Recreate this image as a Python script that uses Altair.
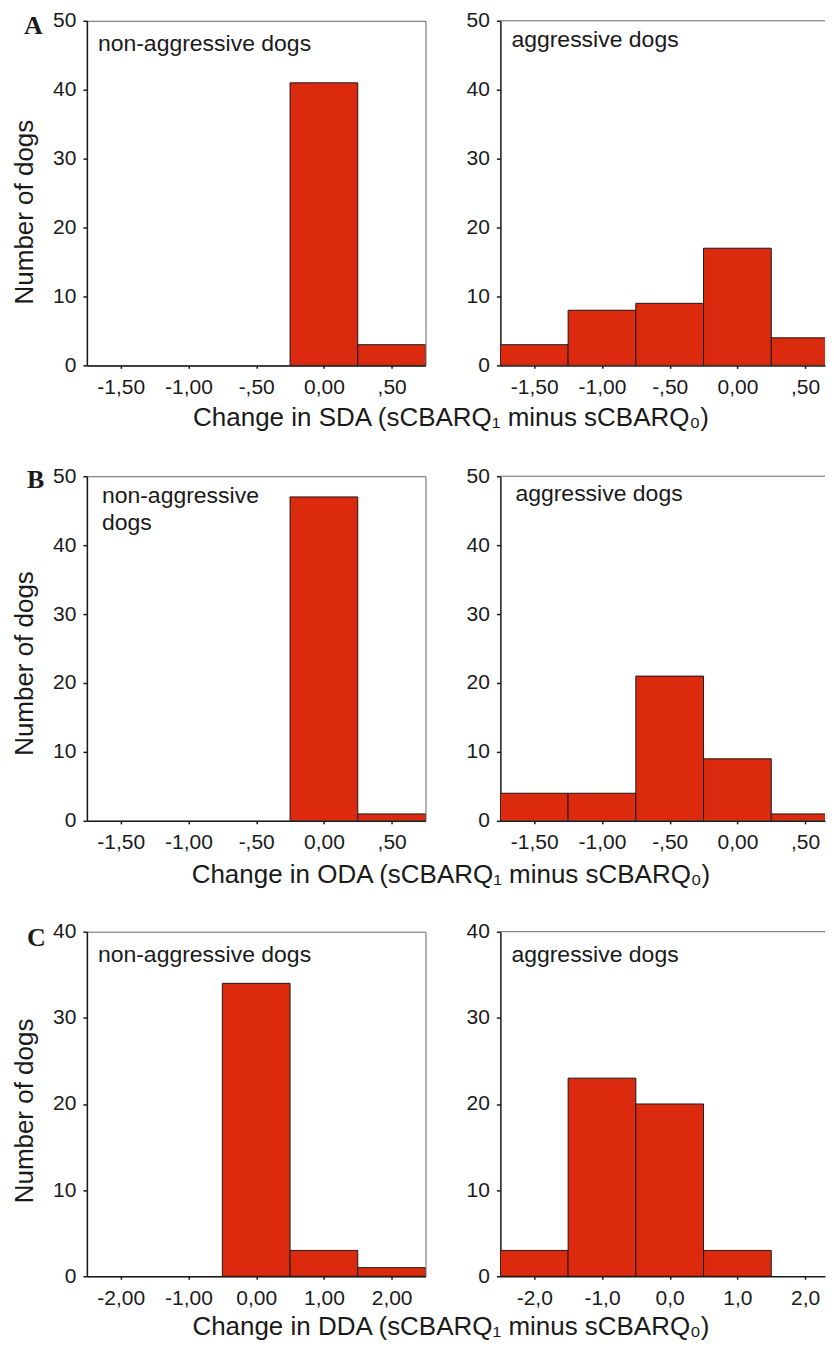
import altair as alt
import pandas as pd

# ---------------- data ----------------
sda_centers = [-1.5, -1.0, -0.5, 0.0, 0.5]
sda_nonagg = [0, 0, 0, 41, 3]
sda_agg = [3, 8, 9, 17, 4]

oda_centers = [-1.5, -1.0, -0.5, 0.0, 0.5]
oda_nonagg = [0, 0, 0, 47, 1]
oda_agg = [4, 4, 21, 9, 1]

dda_centers = [-2.0, -1.0, 0.0, 1.0, 2.0]
dda_nonagg = [0, 0, 34, 3, 1]
dda_agg = [3, 23, 20, 3, 0]

sda_ticks = ["-1,50", "-1,00", "-,50", "0,00", ",50"]
dda_ticks_left = ["-2,00", "-1,00", "0,00", "1,00", "2,00"]
dda_ticks_right = ["-2,0", "-1,0", "0,0", "1,0", "2,0"]

panel_letters = ["A", "B", "C"]
x_titles = [
    "Change in SDA (sCBARQ\u2081 minus sCBARQ\u2080)",
    "Change in ODA (sCBARQ\u2081 minus sCBARQ\u2080)",
    "Change in DDA (sCBARQ\u2081 minus sCBARQ\u2080)",
]
y_title = "Number of dogs"
note_nonagg = "non-aggressive dogs"
note_nonagg_wrapped = "non-aggressive\ndogs"
note_agg = "aggressive dogs"

# ---------------- style ----------------
RED = "#DC2A0E"
INK = "#1a1a1a"
FRAME = "#666666"
FONT = "Liberation Sans"
SERIF = "Liberation Serif"
W_LEFT, W_RIGHT, H = 339, 325, 345


def panel(centers, counts, binw, dom, tick_labels, ymax, width, note, note_x, note_y,
          left, xtitle=None, xtitle_y=60, letter=None, letter_x=-63, letter_y=13, ytitle_y=172):
    df = pd.DataFrame({"center": centers, "n": counts})
    label_expr = ("[" + ",".join(f"'{t}'" for t in tick_labels) + "][indexof(["
                  + ",".join(repr(float(c)) for c in centers) + "], datum.value)]")
    x_axis_kw = dict(values=centers, labelExpr=label_expr, tickSize=3, tickWidth=1.5,
                     labelPadding=8, labelFontSize=21, grid=False)
    if xtitle:
        x_axis_kw.update(title=xtitle, titleX=364, titleY=xtitle_y, titleBaseline="alphabetic",
                         titleFontSize=26, titleAlign="center")
    else:
        x_axis_kw.update(title=None)
    y_axis_kw = dict(values=list(range(0, ymax + 1, 10)), tickSize=4, tickWidth=1.5,
                     labelPadding=7, labelFontSize=21, grid=False)
    if left:
        y_axis_kw.update(title=y_title, titleX=-54, titleY=ytitle_y, titleBaseline="alphabetic",
                         titleFontSize=26, titleAlign="center")
    else:
        y_axis_kw.update(title=None)

    bars = (
        alt.Chart(df)
        .transform_filter("datum.n > 0")
        .transform_calculate(x0=f"datum.center - {binw / 2}", x1=f"datum.center + {binw / 2}")
        .mark_rect(fill=RED, stroke=INK, strokeWidth=1, clip=True)
        .encode(
            x=alt.X("x0:Q", scale=alt.Scale(domain=dom, nice=False, zero=False),
                    axis=alt.Axis(**x_axis_kw)),
            x2="x1:Q",
            y=alt.Y("n:Q", scale=alt.Scale(domain=[0, ymax], nice=False),
                    axis=alt.Axis(**y_axis_kw)),
            y2=alt.datum(0),
        )
    )
    txt = (
        alt.Chart(pd.DataFrame({"note": [note]}))
        .mark_text(align="left", baseline="alphabetic", fontSize=23, font=FONT,
                   lineBreak="\n", lineHeight=27, color=INK)
        .encode(text="note:N", x=alt.value(note_x), y=alt.value(note_y))
    )
    layers = [bars, txt]
    if letter:
        lt = (
            alt.Chart(pd.DataFrame({"letter": [letter]}))
            .mark_text(align="left", baseline="alphabetic", fontSize=26, font=SERIF,
                       fontWeight="bold", color=INK)
            .encode(text="letter:N", x=alt.value(letter_x), y=alt.value(letter_y))
        )
        layers.append(lt)
        view = alt.ViewBackground(stroke=FRAME, strokeWidth=1)
    else:
        # right-hand panels run off the page edge: only the top frame line is visible
        top_line = (
            alt.Chart(pd.DataFrame({"edge": [0]}))
            .mark_rule(color=FRAME, strokeWidth=1)
            .encode(x=alt.value(0), x2=alt.value(width), y=alt.value(0))
        )
        layers.append(top_line)
        view = alt.ViewBackground(stroke=None)
    return alt.layer(*layers, view=view).properties(width=width, height=H)


px_per_unit_sda = W_LEFT / 2.5
px_per_unit_dda = W_LEFT / 5.0
sda_right_dom = [-1.75, -1.75 + W_RIGHT / px_per_unit_sda]
dda_right_dom = [-2.5, -2.5 + W_RIGHT / px_per_unit_dda]

a_l = panel(sda_centers, sda_nonagg, 0.5, [-1.75, 0.75], sda_ticks, 50, W_LEFT,
            note_nonagg, 11, 30, True, x_titles[0], 60, panel_letters[0], -63, 13, 191)
a_r = panel(sda_centers, sda_agg, 0.5, sda_right_dom, sda_ticks, 50, W_RIGHT,
            note_agg, 11, 26, False)
b_l = panel(oda_centers, oda_nonagg, 0.5, [-1.75, 0.75], sda_ticks, 50, W_LEFT,
            note_nonagg_wrapped, 15, 27, True, x_titles[1], 62, panel_letters[1], -60, 12, 187)
b_r = panel(oda_centers, oda_agg, 0.5, sda_right_dom, sda_ticks, 50, W_RIGHT,
            note_agg, 15, 25, False)
c_l = panel(dda_centers, dda_nonagg, 1.0, [-2.5, 2.5], dda_ticks_left, 40, W_LEFT,
            note_nonagg, 11, 30, True, x_titles[2], 58, panel_letters[2], -60, 14, 179)
c_r = panel(dda_centers, dda_agg, 1.0, dda_right_dom, dda_ticks_right, 40, W_RIGHT,
            note_agg, 11, 30, False)

chart = (
    alt.concat(a_l, a_r, b_l, b_r, c_l, c_r, columns=2, bounds="flush",
               spacing={"row": 111, "column": 75})
    .properties(padding={"left": 3, "top": 0, "right": 0, "bottom": 0}, background="white")
    .configure_axis(domainColor=INK, domainWidth=1.5, tickColor=INK, labelColor=INK,
                    titleColor=INK, labelFont=FONT, titleFont=FONT, titleFontWeight="normal",
                    grid=False)
)

chart.save("out.html", embed_options={"renderer": "svg", "actions": False})
